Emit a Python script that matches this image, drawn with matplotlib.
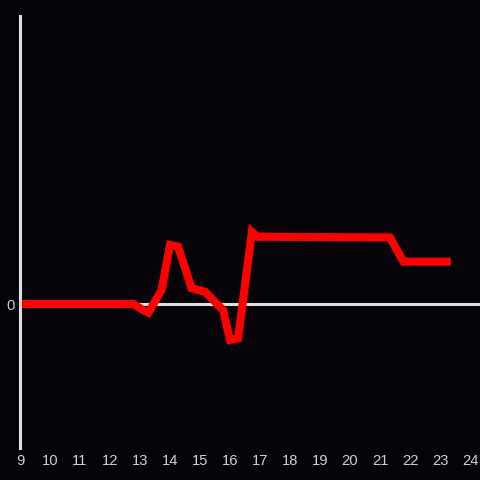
import matplotlib
matplotlib.use("Agg")
import matplotlib.pyplot as plt

hours = [9.0, 12.78, 13.1, 13.28, 13.72, 14.0, 14.27, 14.72, 15.17, 15.77,
         16.0, 16.27, 16.73, 16.9, 21.33, 21.78, 23.36]
values = [0, 0, -4.2, -6.0, 9.7, 41.0, 39.8, 10.9, 8.5, -4.2,
          -25.0, -23.8, 50.0, 46.7, 46.2, 29.4, 29.4]
x_ticks = list(range(9, 25))
y_ticks = [0]

bg = "#050307"
axis_col = "#dedede"
text_col = "#cfcfcf"

fig = plt.figure(figsize=(4.8, 4.8), dpi=100, facecolor=bg)
ax = fig.add_axes([20/480, 32/480, 460/480, 432/480], facecolor=bg)

ax.axhline(0, color=axis_col, lw=2.2, zorder=1)
ax.plot(hours, values, color="#ff0000", lw=5.8, solid_joinstyle="miter",
        solid_capstyle="butt", zorder=2)

ax.set_xlim(9, 24.333)
ax.set_ylim(-100, 200)

for s in ["top", "right", "bottom"]:
    ax.spines[s].set_visible(False)
ax.spines["left"].set_color(axis_col)
ax.spines["left"].set_linewidth(2.2)
ax.spines["left"].set_zorder(3)

ax.set_xticks(x_ticks)
ax.set_xticklabels([str(t) for t in x_ticks])
ax.set_yticks(y_ticks)
ax.set_yticklabels(["0"])
ax.tick_params(axis="both", length=0, colors=text_col, labelsize=10.6)
ax.tick_params(axis="x", pad=4.5)
ax.tick_params(axis="y", pad=4)
for lbl in ax.get_xticklabels() + ax.get_yticklabels():
    lbl.set_fontfamily("Liberation Sans")

fig.savefig("out.png", dpi=100, facecolor=bg)
